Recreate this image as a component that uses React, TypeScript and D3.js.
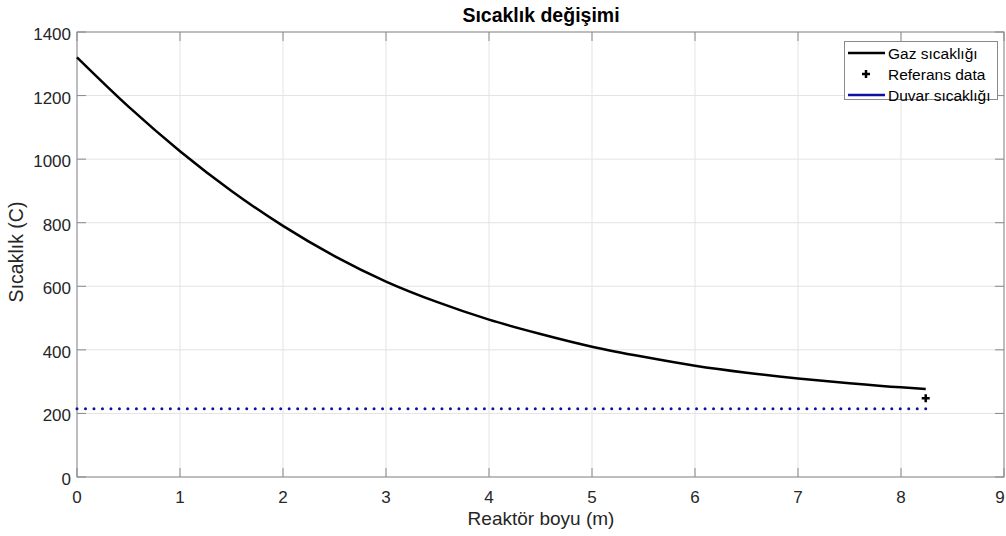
import React, { useRef, useEffect } from 'react';
import * as d3 from 'd3';

// Gas temperature along reactor
const gasX = [0, 0.5, 1, 1.5, 2, 2.5, 3, 3.5, 4, 4.5, 5, 5.5, 6, 6.5, 7, 7.5, 8, 8.24];
const gasT = [1320, 1165, 1025, 900, 790, 695, 615, 550, 495, 450, 410, 378, 350, 328, 310, 295, 282, 277];
const refX = [8.24];
const refT = [248];
const wallX = [0, 8.24];
const wallT = [215, 215];
const xTicks = [0, 1, 2, 3, 4, 5, 6, 7, 8, 9];
const yTicks = [0, 200, 400, 600, 800, 1000, 1200, 1400];
const legendLabels = ['Gaz sıcaklığı', 'Referans data', 'Duvar sıcaklığı'];

const W = 1006;
const H = 536;
const FONT = 'Liberation Sans, Arial, Helvetica, sans-serif';

export default function App() {
  const svgRef = useRef<SVGSVGElement>(null);

  useEffect(() => {
    if (!svgRef.current) return;
    const svg = d3.select(svgRef.current);
    svg.selectAll('*').remove();

    const left = 77, right = 1004, top = 32, bottom = 477;
    const x = d3.scaleLinear().domain([0, 9]).range([left, right]);
    const y = d3.scaleLinear().domain([0, 1400]).range([bottom, top]);

    svg.append('rect').attr('width', W).attr('height', H).attr('fill', '#fff');

    // grid
    const grid = svg.append('g').attr('stroke', '#e3e3e3').attr('stroke-width', 1);
    xTicks.forEach((t) => {
      grid.append('line').attr('x1', x(t)).attr('x2', x(t)).attr('y1', top).attr('y2', bottom);
    });
    yTicks.forEach((t) => {
      grid.append('line').attr('x1', left).attr('x2', right).attr('y1', y(t)).attr('y2', y(t));
    });

    // axes box
    const axCol = '#8a8a8a';
    svg.append('rect')
      .attr('x', left).attr('y', top)
      .attr('width', right - left).attr('height', bottom - top)
      .attr('fill', 'none').attr('stroke', axCol).attr('stroke-width', 1);

    const ticks = svg.append('g').attr('stroke', axCol).attr('stroke-width', 1);
    xTicks.forEach((t) => {
      ticks.append('line').attr('x1', x(t)).attr('x2', x(t)).attr('y1', bottom).attr('y2', bottom - 9);
      ticks.append('line').attr('x1', x(t)).attr('x2', x(t)).attr('y1', top).attr('y2', top + 9);
    });
    yTicks.forEach((t) => {
      ticks.append('line').attr('x1', left).attr('x2', left + 9).attr('y1', y(t)).attr('y2', y(t));
      ticks.append('line').attr('x1', right).attr('x2', right - 9).attr('y1', y(t)).attr('y2', y(t));
    });

    // tick labels
    svg.append('g').selectAll('text').data(xTicks).enter().append('text')
      .attr('x', (d) => Math.min(x(d), W - 6)).attr('y', bottom + 26)
      .attr('text-anchor', 'middle')
      .attr('font-family', FONT).attr('font-size', 17).attr('fill', '#262626')
      .text((d) => d);
    svg.append('g').selectAll('text').data(yTicks).enter().append('text')
      .attr('x', left - 6).attr('y', (d) => y(d) + 8)
      .attr('text-anchor', 'end')
      .attr('font-family', FONT).attr('font-size', 17).attr('fill', '#262626')
      .text((d) => d);

    // titles
    svg.append('text').attr('x', 541).attr('y', 22)
      .attr('text-anchor', 'middle').attr('font-family', FONT).attr('font-size', 19.5)
      .attr('font-weight', 'bold').attr('fill', '#000').text('Sıcaklık değişimi');
    svg.append('text').attr('x', 541).attr('y', 525)
      .attr('text-anchor', 'middle').attr('font-family', FONT).attr('font-size', 19)
      .attr('fill', '#262626').text('Reaktör boyu (m)');
    svg.append('text')
      .attr('transform', `translate(23, ${252}) rotate(-90)`)
      .attr('text-anchor', 'middle').attr('font-family', FONT).attr('font-size', 19.5)
      .attr('fill', '#262626').text('Sıcaklık (C)');

    // wall temperature (dotted)
    const wallLine = d3.line<number>().x((d) => x(wallX[d])).y((d) => y(wallT[d]));
    const wallLen = x(wallX[1]) - x(wallX[0]);
    const gap = wallLen / Math.round(wallLen / 8.5);
    svg.append('path')
      .attr('d', wallLine(wallX.map((_, i) => i)))
      .attr('fill', 'none').attr('stroke', '#1010a0').attr('stroke-width', 3)
      .attr('stroke-linecap', 'round').attr('stroke-dasharray', `0 ${gap}`);

    // gas temperature
    const gasLine = d3.line<number>()
      .x((i) => x(gasX[i])).y((i) => y(gasT[i]))
      .curve(d3.curveMonotoneX);
    svg.append('path')
      .attr('d', gasLine(gasX.map((_, i) => i)))
      .attr('fill', 'none').attr('stroke', '#000').attr('stroke-width', 2.5);

    // reference data
    refX.forEach((rx, i) => {
      const cx = x(rx), cy = y(refT[i]);
      svg.append('path')
        .attr('d', `M${cx - 4},${cy}H${cx + 4}M${cx},${cy - 4}V${cy + 4}`)
        .attr('stroke', '#000').attr('stroke-width', 2.5);
    });

    // legend
    const lg = svg.append('g');
    lg.append('rect').attr('x', 844.5).attr('y', 41.5).attr('width', 153).attr('height', 58)
      .attr('fill', '#fff').attr('stroke', axCol).attr('stroke-width', 1);
    const rows = [53, 74, 95];
    lg.append('line').attr('x1', 848).attr('x2', 885).attr('y1', rows[0]).attr('y2', rows[0])
      .attr('stroke', '#000').attr('stroke-width', 2.5);
    lg.append('path')
      .attr('d', `M${866 - 4},${rows[1]}H${866 + 4}M866,${rows[1] - 4}V${rows[1] + 4}`)
      .attr('stroke', '#000').attr('stroke-width', 2.5);
    lg.append('line').attr('x1', 848).attr('x2', 885).attr('y1', rows[2]).attr('y2', rows[2])
      .attr('stroke', '#1010a0').attr('stroke-width', 2.5);
    legendLabels.forEach((l, i) => {
      lg.append('text').attr('x', 888).attr('y', rows[i] + 5.5)
        .attr('font-family', FONT).attr('font-size', 15.5).attr('fill', '#000').text(l);
    });
  }, []);

  return (
    <svg ref={svgRef} width={W} height={H}
      style={{ position: 'absolute', left: 0, top: 0, display: 'block' }} />
  );
}
